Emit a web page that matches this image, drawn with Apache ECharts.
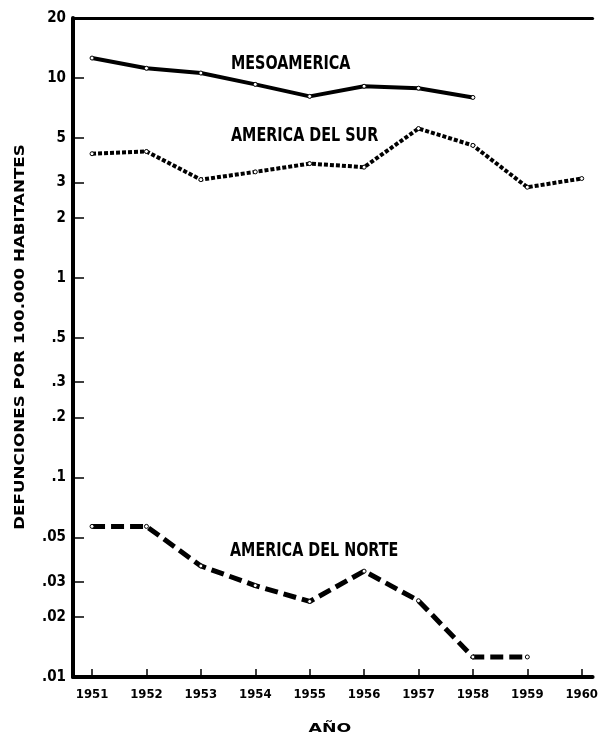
<!DOCTYPE html>
<html>
<head>
<meta charset="utf-8">
<script src="https://cdn.jsdelivr.net/npm/echarts@6/dist/echarts.min.js"></script>
<style>
html,body{margin:0;padding:0;background:#fff;}
#c{width:601px;height:739px;}
</style>
</head>
<body>
<div id="c"></div>
<script>
const years = [1951,1952,1953,1954,1955,1956,1957,1958,1959,1960];
const mesoamerica = [12.6,11.2,10.6,9.3,8.1,9.1,8.9,8.0,null,null];
const americaSur = [4.18,4.29,3.1,3.39,3.73,3.58,5.59,4.6,2.84,3.14];
const americaNorte = [0.0568,0.0568,0.036,0.0287,0.0239,0.0339,0.0241,0.0126,0.0126,null];
const yTicks = [0.01,0.02,0.03,0.05,0.1,0.2,0.3,0.5,1,2,3,5,10,20];
const seriesNames = ['MESOAMERICA','AMERICA DEL SUR','AMERICA DEL NORTE'];
const yTitle = 'DEFUNCIONES POR 100.000 HABITANTES';
const xTitle = 'AÑO';

const narrow = '"DejaVu Sans Condensed","Liberation Sans Narrow",sans-serif';
const wide = '"DejaVu Sans",sans-serif';
const pairs = arr => years.map((y,i)=>[y,arr[i]]).filter(p=>p[1]!=null);
const mk = {symbol:'circle',symbolSize:4,itemStyle:{color:'#fff',borderColor:'#000',borderWidth:1}};

const chart = echarts.init(document.getElementById('c'));
chart.setOption({
  animation:false,
  backgroundColor:'#fff',
  grid:{left:73,right:0,top:18,bottom:62},
  xAxis:[{
    type:'value',min:1950.65,max:1960.2,
    axisLine:{show:true,lineStyle:{color:'#000',width:4}},
    axisTick:{show:true,inside:true,length:8,lineStyle:{color:'#000',width:1.5},customValues:years},
    axisLabel:{customValues:years,formatter:v=>String(v),color:'#000',fontFamily:narrow,fontWeight:'bold',fontSize:13,margin:11},
    splitLine:{show:false}
  },{
    type:'value',position:'top',min:1950.65,max:1960.2,
    axisLine:{show:true,lineStyle:{color:'#000',width:3}},
    axisTick:{show:false},axisLabel:{show:false},splitLine:{show:false}
  }],
  yAxis:{
    type:'log',logBase:10,min:0.01,max:20,
    axisLine:{show:true,lineStyle:{color:'#000',width:4}},
    axisTick:{show:true,inside:true,length:11,lineStyle:{color:'#000',width:1.5},customValues:yTicks},
    axisLabel:{customValues:yTicks,color:'#000',fontFamily:narrow,fontWeight:'bold',fontSize:15,margin:7,
      formatter:v=>{const s=String(+v.toPrecision(3));return s.startsWith('0.')?s.slice(1):s;}},
    splitLine:{show:false},minorTick:{show:false}
  },
  graphic:[
    {type:'text',x:231,y:55,scaleX:0.84,style:{text:seriesNames[0],fill:'#000',font:'bold 19px '+narrow}},
    {type:'text',x:231,y:127,scaleX:0.84,style:{text:seriesNames[1],fill:'#000',font:'bold 19px '+narrow}},
    {type:'text',x:230,y:542,scaleX:0.84,style:{text:seriesNames[2],fill:'#000',font:'bold 19px '+narrow}},
    {type:'text',x:20,y:337,rotation:Math.PI/2,scaleX:1.24,
      style:{text:yTitle,fill:'#000',font:'bold 13.5px '+wide,align:'center',verticalAlign:'middle'}},
    {type:'text',x:330,y:729,scaleX:1.45,
      style:{text:xTitle,fill:'#000',font:'bold 12px '+wide,align:'center',verticalAlign:'middle'}}
  ],
  series:[
    Object.assign({type:'line',name:seriesNames[0],data:pairs(mesoamerica),lineStyle:{color:'#000',width:4,type:'solid'},z:3},mk),
    Object.assign({type:'line',name:seriesNames[1],data:pairs(americaSur),lineStyle:{color:'#000',width:4,type:[4,2]},z:3},mk),
    Object.assign({type:'line',name:seriesNames[2],data:pairs(americaNorte),lineStyle:{color:'#000',width:5,type:[13,6]},z:3},mk)
  ]
});
</script>
</body>
</html>
